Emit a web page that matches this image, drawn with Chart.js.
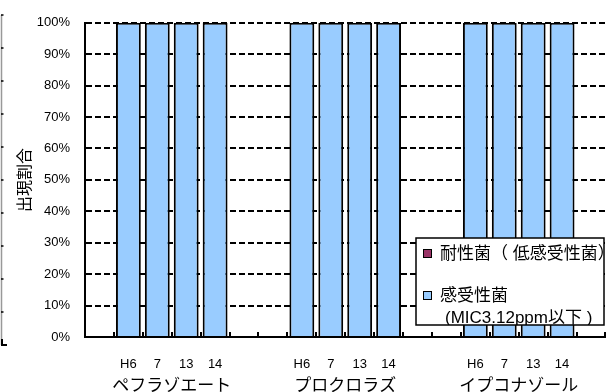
<!DOCTYPE html>
<html>
<head>
<meta charset="utf-8">
<script src="https://cdn.jsdelivr.net/npm/chart.js@4/dist/chart.umd.min.js"></script>
<style>
html, body { margin: 0; padding: 0; background: #fff; }
#wrap { width: 611px; height: 392px; }
</style>
</head>
<body>
<div id="wrap"><canvas id="chart" width="611" height="392"></canvas></div>
<script>
// 18 slots: 4 bars per fungicide, 2 empty slots between groups
const slots = ['', 'H6', '7', '13', '14', '', '', 'H6', '7', '13', '14', '', '', 'H6', '7', '13', '14', ''];
const groupNames = ['ペフラゾエート', 'プロクロラズ', 'イプコナゾール'];
const groupFirstSlot = [1, 7, 13];
const resistant = [null, 0, 0, 0, 0, null, null, 0, 0, 0, 0, null, null, 0, 0, 0, 0, null];
const susceptible = [null, 100, 100, 100, 100, null, null, 100, 100, 100, 100, null, null, 100, 100, 100, 100, null];
const legendLines = [
    ['耐性菌（ 低感受性菌）'],
    ['感受性菌', '(MIC3.12ppm以下 )']
];

const JP = '"Noto Sans CJK JP", sans-serif';
const MIX = '"Liberation Sans", "Noto Sans CJK JP", sans-serif';

// small tick marks pointing up from the x axis at slot boundaries
const innerTicks = {
    id: 'innerTicks',
    beforeDatasetsDraw(chart) {
        const ctx = chart.ctx, x = chart.scales.x, bottom = chart.chartArea.bottom;
        ctx.save();
        ctx.strokeStyle = '#000';
        ctx.lineWidth = 2;
        for (let i = 0; i <= slots.length; i++) {
            const px = Math.round(x.getPixelForValue(i - 0.5));
            ctx.beginPath();
            ctx.moveTo(px, bottom);
            ctx.lineTo(px, bottom - 5);
            ctx.stroke();
        }
        ctx.restore();
    }
};

const groupLabels = {
    id: 'groupLabels',
    afterDraw(chart) {
        const ctx = chart.ctx, x = chart.scales.x;
        ctx.save();
        ctx.font = '17px ' + JP;
        ctx.fillStyle = '#000';
        ctx.textAlign = 'center';
        ctx.textBaseline = 'top';
        groupNames.forEach((name, i) => {
            ctx.fillText(name, x.getPixelForValue(groupFirstSlot[i] + 1.5), 376);
        });
        ctx.restore();
    }
};

const boxLegend = {
    id: 'boxLegend',
    afterDraw(chart) {
        const ctx = chart.ctx;
        const bx = 416, by = 238, bw = 188, bh = 87;
        ctx.save();
        ctx.fillStyle = '#fff';
        ctx.fillRect(bx, by, bw, bh);
        ctx.beginPath();
        ctx.rect(bx, by, bw, bh);
        ctx.clip();
        ctx.font = '17px ' + MIX;
        ctx.textBaseline = 'middle';
        chart.data.datasets.forEach((ds, i) => {
            const cy = i === 0 ? 254 : 296;
            ctx.fillStyle = ds.backgroundColor;
            ctx.fillRect(424, cy - 4, 7, 7);
            ctx.strokeStyle = '#000';
            ctx.lineWidth = 1;
            ctx.strokeRect(423.5, cy - 4.5, 8, 8);
            ctx.fillStyle = '#000';
            ctx.fillText(legendLines[i][0], 440, cy);
            if (legendLines[i][1]) ctx.fillText(legendLines[i][1], 445, cy + 22);
        });
        ctx.restore();
        ctx.save();
        ctx.strokeStyle = '#000';
        ctx.lineWidth = 1.5;
        ctx.strokeRect(bx, by, bw, bh);
        ctx.restore();
    }
};

// remnant of a neighbouring frame at the far left edge
const leftFrame = {
    id: 'leftFrame',
    afterDraw(chart) {
        const ctx = chart.ctx, top = 15, bottom = 345;
        ctx.save();
        ctx.strokeStyle = '#999';
        ctx.lineWidth = 1.5;
        ctx.beginPath();
        ctx.moveTo(1.5, top);
        ctx.lineTo(1.5, bottom);
        ctx.stroke();
        ctx.strokeStyle = '#000';
        for (let i = 0; i <= 10; i++) {
            const y = top + (bottom - top) * i / 10;
            ctx.beginPath();
            ctx.moveTo(1, y);
            ctx.lineTo(3.5, y);
            ctx.stroke();
        }
        ctx.lineWidth = 2;
        ctx.beginPath();
        ctx.moveTo(2, bottom - 6);
        ctx.lineTo(2, bottom);
        ctx.lineTo(7, bottom);
        ctx.stroke();
        ctx.restore();
    }
};

Chart.defaults.font.family = '"Liberation Sans", Arial, sans-serif';
Chart.defaults.color = '#000';

new Chart(document.getElementById('chart'), {
    type: 'bar',
    data: {
        labels: slots,
        datasets: [{
            label: '耐性菌（低感受性菌）',
            data: resistant,
            backgroundColor: '#993366',
            borderColor: '#000',
            borderWidth: 0
        }, {
            label: '感受性菌(MIC3.12ppm以下 )',
            data: susceptible,
            backgroundColor: '#99CCFF',
            borderColor: '#000',
            borderWidth: 2
        }]
    },
    options: {
        responsive: false,
        animation: false,
        devicePixelRatio: 1,
        layout: { padding: { top: 14, right: 0, left: 0, bottom: 0 } },
        datasets: { bar: { barPercentage: 0.86, categoryPercentage: 1 } },
        plugins: { legend: { display: false }, tooltip: { enabled: false } },
        scales: {
            x: {
                stacked: true,
                offset: true,
                grid: { display: false, drawTicks: false },
                border: { display: true, color: '#000', width: 2 },
                ticks: { padding: 20, minRotation: 0, maxRotation: 0, autoSkip: false, font: { size: 13 } },
                afterFit(s) { s.height = 55; }
            },
            y: {
                stacked: true,
                min: 0,
                max: 100,
                grid: { color: '#000', lineWidth: 2, drawTicks: false },
                border: { display: true, color: '#000', width: 2, dash: [6, 3] },
                ticks: { stepSize: 10, padding: 15, font: { size: 13 }, callback: v => v + '%' },
                title: { display: true, text: '出現割合', font: { family: JP, size: 16 }, padding: { top: 14, bottom: 0 } },
                afterFit(s) { s.width = 85; }
            }
        }
    },
    plugins: [innerTicks, groupLabels, boxLegend, leftFrame]
});
</script>
</body>
</html>
